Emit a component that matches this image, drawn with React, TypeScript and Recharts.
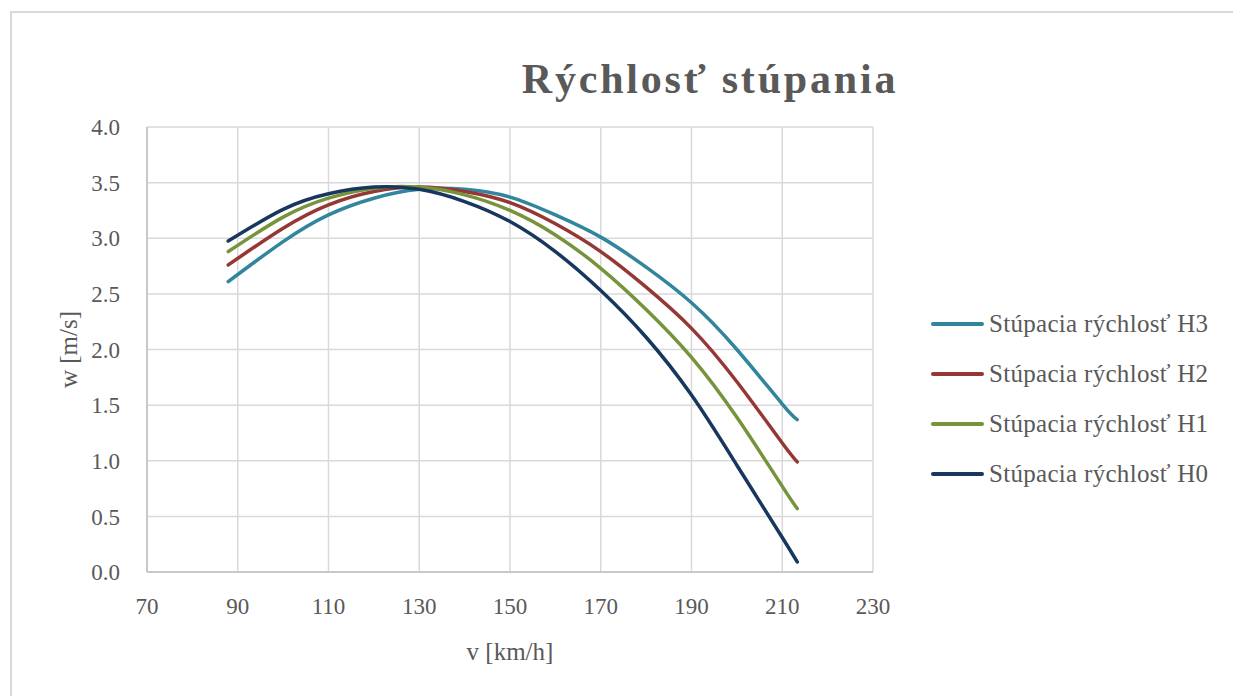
import { LineChart, Line, XAxis, YAxis, CartesianGrid, Legend, Label } from "recharts";

// rýchlosť letu [km/h]
const speeds = [87.9, 100, 110, 120, 130, 140, 150, 160, 170, 180, 190, 200, 210, 213.3];

// stúpacia rýchlosť [m/s] pre jednotlivé výšky
const h3 = [2.61, 2.97, 3.21, 3.36, 3.44, 3.44, 3.37, 3.21, 3.01, 2.74, 2.42, 2.0, 1.51, 1.37];
const h2 = [2.76, 3.09, 3.3, 3.42, 3.46, 3.42, 3.32, 3.13, 2.88, 2.56, 2.19, 1.71, 1.16, 0.99];
const h1 = [2.88, 3.19, 3.36, 3.45, 3.46, 3.39, 3.25, 3.03, 2.73, 2.36, 1.93, 1.39, 0.77, 0.57];
const h0 = [2.975, 3.26, 3.4, 3.46, 3.44, 3.33, 3.15, 2.88, 2.53, 2.11, 1.59, 0.96, 0.31, 0.09];

const xTicks = [70, 90, 110, 130, 150, 170, 190, 210, 230];
const yTicks = [0, 0.5, 1, 1.5, 2, 2.5, 3, 3.5, 4];

const series = [
  { key: "h3", name: "Stúpacia rýchlosť H3", color: "#31859C", values: h3 },
  { key: "h2", name: "Stúpacia rýchlosť H2", color: "#953735", values: h2 },
  { key: "h1", name: "Stúpacia rýchlosť H1", color: "#77933C", values: h1 },
  { key: "h0", name: "Stúpacia rýchlosť H0", color: "#17375E", values: h0 },
];

const data = speeds.map((v, i) => {
  const row: Record<string, number> = { v };
  series.forEach((s) => {
    row[s.key] = s.values[i];
  });
  return row;
});

const FONT = "'Liberation Serif', 'DejaVu Serif', serif";
const TEXT = "#595959";

function renderLegend() {
  return (
    <div style={{ fontFamily: FONT }}>
      {series.map((s) => (
        <div key={s.key} style={{ display: "flex", alignItems: "center", height: 50 }}>
          <div style={{ width: 53, height: 4, borderRadius: 2, background: s.color }} />
          <span style={{ marginLeft: 5, fontSize: 25, letterSpacing: 0.3, color: TEXT, whiteSpace: "nowrap" }}>
            {s.name}
          </span>
        </div>
      ))}
    </div>
  );
}

export default function App() {
  return (
    <div
      style={{
        position: "absolute",
        left: 0,
        top: 0,
        width: 1233,
        height: 696,
        overflow: "hidden",
        background: "#fff",
        fontFamily: FONT,
      }}
    >
      <div
        style={{
          position: "absolute",
          left: 10,
          top: 11,
          width: 1260,
          height: 720,
          border: "2px solid #d9d9d9",
        }}
      />
      <div
        style={{
          position: "absolute",
          left: 420,
          top: 55,
          width: 580,
          textAlign: "center",
          fontSize: 42,
          fontWeight: "bold",
          letterSpacing: 2.8,
          color: TEXT,
          whiteSpace: "nowrap",
        }}
      >
        Rýchlosť stúpania
      </div>
      <div style={{ position: "absolute", left: 0, top: 0 }}>
        <LineChart width={1233} height={696} data={data} margin={{ top: 127, right: 60, bottom: 94, left: 87 }}>
          <CartesianGrid stroke="#d9d9d9" strokeWidth={1.5} />
          <XAxis
            type="number"
            dataKey="v"
            domain={[70, 230]}
            ticks={xTicks}
            height={30}
            tickLine={false}
            tickMargin={20}
            axisLine={{ stroke: "#bfbfbf", strokeWidth: 1.5 }}
            tick={{ fontSize: 23, fill: TEXT, fontFamily: FONT }}
          >
            <Label
              value="v [km/h]"
              position="bottom"
              offset={40}
              style={{ fontSize: 25, fill: TEXT, fontFamily: FONT }}
            />
          </XAxis>
          <YAxis
            type="number"
            domain={[0, 4]}
            ticks={yTicks}
            width={60}
            tickLine={false}
            tickMargin={21}
            tickFormatter={(val: number) => val.toFixed(1)}
            axisLine={{ stroke: "#bfbfbf", strokeWidth: 1.5 }}
            tick={{ fontSize: 23, fill: TEXT, fontFamily: FONT }}
          >
            <Label
              value="w [m/s]"
              angle={-90}
              position="left"
              offset={19}
              style={{ fontSize: 25, fill: TEXT, fontFamily: FONT, textAnchor: "middle" }}
            />
          </YAxis>
          <Legend
            layout="vertical"
            align="right"
            verticalAlign="top"
            content={renderLegend}
            wrapperStyle={{ left: 931, top: 299, width: 300 }}
          />
          {series.map((s) => (
            <Line
              key={s.key}
              type="natural"
              dataKey={s.key}
              name={s.name}
              stroke={s.color}
              strokeWidth={3.5}
              strokeLinecap="round"
              dot={false}
              activeDot={false}
              isAnimationActive={false}
            />
          ))}
        </LineChart>
      </div>
    </div>
  );
}
